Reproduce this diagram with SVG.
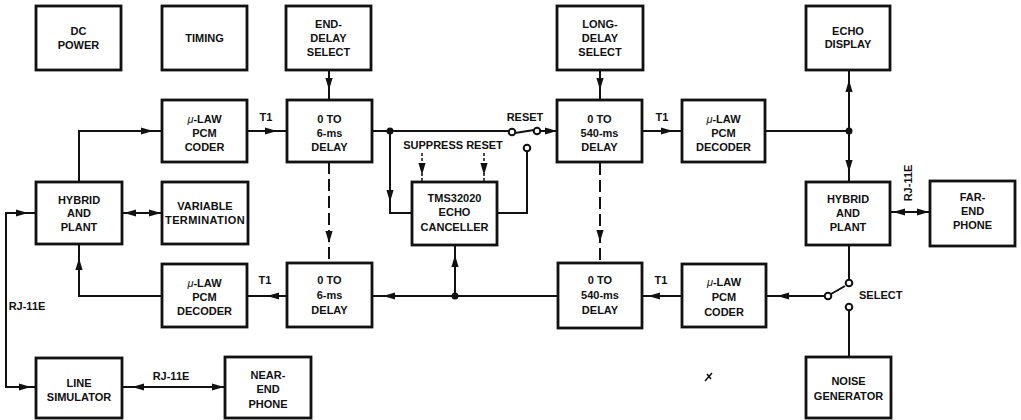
<svg xmlns="http://www.w3.org/2000/svg" xmlns:xlink="http://www.w3.org/1999/xlink" width="1021" height="420" viewBox="0 0 1021 420">
<style>
.box{fill:#fff;stroke:#111;stroke-width:2.8}
.t{font-family:"Liberation Sans",Arial,Helvetica,sans-serif;font-weight:bold;font-size:11px;fill:#111;text-anchor:middle}
.s{text-anchor:start}
.mu{font-style:italic;font-weight:normal}
.ln{fill:none;stroke:#111;stroke-width:2}
.dash{stroke-dasharray:12 5}
.dots{stroke-dasharray:3 2;stroke-width:1.5}
.dot{fill:#111}
.ct{fill:#fff;stroke:#111;stroke-width:2}
</style>
<defs>
<path id="ah" d="M0,0 L-12,-3.6 L-12,3.6 Z" fill="#111"/>
</defs>
<rect width="1021" height="420" fill="#fff"/>

<g id="dc-power"><rect class="box" x="36" y="6" width="85" height="64"/>
<text class="t" x="78.5" y="35">DC</text><text class="t" x="78.5" y="49">POWER</text></g>

<g id="timing"><rect class="box" x="162" y="6" width="85" height="64"/>
<text class="t" x="204.5" y="42">TIMING</text></g>

<g id="end-delay-select"><rect class="box" x="286" y="6" width="85" height="64"/>
<text class="t" x="328.5" y="28">END-</text><text class="t" x="328.5" y="42">DELAY</text><text class="t" x="328.5" y="56">SELECT</text></g>

<g id="long-delay-select"><rect class="box" x="557" y="6" width="86" height="64"/>
<text class="t" x="600" y="28">LONG-</text><text class="t" x="600" y="42">DELAY</text><text class="t" x="600" y="56">SELECT</text></g>

<g id="echo-display"><rect class="box" x="806" y="6" width="84" height="64"/>
<text class="t" x="848" y="35">ECHO</text><text class="t" x="848" y="48">DISPLAY</text></g>

<g id="coder-top"><rect class="box" x="162" y="100" width="85" height="62"/>
<text class="t" x="204.5" y="123"><tspan class="mu">μ</tspan>-LAW</text><text class="t" x="204.5" y="137">PCM</text><text class="t" x="204.5" y="151">CODER</text></g>

<g id="delay6-top"><rect class="box" x="287" y="100" width="85" height="62"/>
<text class="t" x="329.5" y="123">0 TO</text><text class="t" x="329.5" y="137">6-ms</text><text class="t" x="329.5" y="151">DELAY</text></g>

<g id="delay540-top"><rect class="box" x="557" y="100" width="85" height="62"/>
<text class="t" x="599.5" y="123">0 TO</text><text class="t" x="599.5" y="137">540-ms</text><text class="t" x="599.5" y="151">DELAY</text></g>

<g id="decoder-top"><rect class="box" x="682" y="100" width="83" height="62"/>
<text class="t" x="723.5" y="123"><tspan class="mu">μ</tspan>-LAW</text><text class="t" x="723.5" y="137">PCM</text><text class="t" x="723.5" y="151">DECODER</text></g>

<g id="hybrid-left"><rect class="box" x="36" y="182" width="86" height="62"/>
<text class="t" x="79" y="204">HYBRID</text><text class="t" x="79" y="217">AND</text><text class="t" x="79" y="231">PLANT</text></g>

<g id="variable-termination"><rect class="box" x="162" y="182" width="86" height="62"/>
<text class="t" x="205" y="210">VARIABLE</text><text class="t" x="205" y="224" style="letter-spacing:0.4px">TERMINATION</text></g>

<g id="echo-canceller"><rect class="box" x="412" y="182" width="85" height="63"/>
<text class="t" x="454.5" y="202">TMS32020</text><text class="t" x="454.5" y="216">ECHO</text><text class="t" x="454.5" y="231">CANCELLER</text></g>

<g id="hybrid-right"><rect class="box" x="806" y="182" width="84" height="63"/>
<text class="t" x="848" y="203">HYBRID</text><text class="t" x="848" y="217">AND</text><text class="t" x="848" y="231">PLANT</text></g>

<g id="far-end-phone"><rect class="box" x="930" y="181" width="85" height="65"/>
<text class="t" x="972.5" y="201">FAR-</text><text class="t" x="972.5" y="215">END</text><text class="t" x="972.5" y="229">PHONE</text></g>

<g id="decoder-bottom"><rect class="box" x="162" y="264" width="85" height="63"/>
<text class="t" x="204.5" y="287"><tspan class="mu">μ</tspan>-LAW</text><text class="t" x="204.5" y="301">PCM</text><text class="t" x="204.5" y="315">DECODER</text></g>

<g id="delay6-bottom"><rect class="box" x="287" y="263" width="85" height="64"/>
<text class="t" x="329.5" y="284">0 TO</text><text class="t" x="329.5" y="299">6-ms</text><text class="t" x="329.5" y="314">DELAY</text></g>

<g id="delay540-bottom"><rect class="box" x="558" y="263" width="84" height="65"/>
<text class="t" x="600" y="284">0 TO</text><text class="t" x="600" y="299">540-ms</text><text class="t" x="600" y="314">DELAY</text></g>

<g id="coder-bottom"><rect class="box" x="682" y="264" width="84" height="63"/>
<text class="t" x="724" y="286"><tspan class="mu">μ</tspan>-LAW</text><text class="t" x="724" y="301">PCM</text><text class="t" x="724" y="316">CODER</text></g>

<g id="line-simulator"><rect class="box" x="36" y="358" width="86" height="60"/>
<text class="t" x="79" y="387">LINE</text><text class="t" x="79" y="401">SIMULATOR</text></g>

<g id="near-end-phone"><rect class="box" x="225" y="357" width="86" height="61"/>
<text class="t" x="268" y="379">NEAR-</text><text class="t" x="268" y="393">END</text><text class="t" x="268" y="408">PHONE</text></g>

<g id="noise-generator"><rect class="box" x="806" y="357" width="85" height="61"/>
<text class="t" x="848.5" y="385">NOISE</text><text class="t" x="848.5" y="400">GENERATOR</text></g>

<g id="connectors">
<path class="ln" d="M329,70 V100"/><use xlink:href="#ah" transform="translate(329,90) rotate(90)"/>
<path class="ln" d="M600,70 V100"/><use xlink:href="#ah" transform="translate(600,90) rotate(90)"/>
<path class="ln" d="M247,131 H287"/><use xlink:href="#ah" transform="translate(277,131)"/>
<text class="t" x="266" y="121">T1</text>
<path class="ln" d="M372,131 H508.5"/><circle class="dot" cx="390" cy="131" r="3.5"/>
<circle class="ct" cx="512" cy="132" r="3.3"/>
<path class="ln" d="M515,133 L534,130"/>
<circle class="ct" cx="537" cy="131" r="3.3"/>
<path class="ln" d="M540.3,131 H557"/><use xlink:href="#ah" transform="translate(557,131)"/>
<text class="t" x="525" y="121">RESET</text>
<path class="ln" d="M390,131 V213 H412"/><use xlink:href="#ah" transform="translate(390,202) rotate(90)"/>
<text class="t" x="453" y="149">SUPPRESS RESET</text>
<path class="ln dots" d="M422,153 V182"/><use xlink:href="#ah" transform="translate(422,175) rotate(90)"/>
<path class="ln dots" d="M484,153 V182"/><use xlink:href="#ah" transform="translate(484,175) rotate(90)"/>
<circle class="ct" cx="527" cy="148" r="3.3"/>
<path class="ln" d="M527,151.3 V213 H497"/>
<path class="ln" d="M558,296 H372"/><use xlink:href="#ah" transform="translate(383,296) rotate(180)"/>
<circle class="dot" cx="455" cy="296" r="3.5"/>
<path class="ln" d="M455,296 V245"/><use xlink:href="#ah" transform="translate(455,255) rotate(-90)"/>
<path class="ln" d="M682,296 H642"/><use xlink:href="#ah" transform="translate(648,296) rotate(180)"/>
<text class="t" x="661" y="284">T1</text>
<path class="ln" d="M766,296 H824.7"/><use xlink:href="#ah" transform="translate(777,296) rotate(180)"/>
<circle class="ct" cx="828" cy="296" r="3.3"/>
<path class="ln" d="M831,294 L845,286"/>
<circle class="ct" cx="849" cy="283" r="3.3"/>
<path class="ln" d="M849,245 V279.7"/>
<circle class="ct" cx="849" cy="307" r="3.3"/>
<path class="ln" d="M849,310.3 V357"/>
<text class="t s" x="859" y="299">SELECT</text>
<path class="ln" d="M642,131 H682"/><use xlink:href="#ah" transform="translate(673,131)"/>
<text class="t" x="662" y="121">T1</text>
<path class="ln" d="M765,131 H849"/><circle class="dot" cx="849" cy="131" r="3.5"/>
<path class="ln" d="M849,70 V182"/>
<use xlink:href="#ah" transform="translate(849,80) rotate(-90)"/>
<use xlink:href="#ah" transform="translate(849,172) rotate(90)"/>
<path class="ln" d="M890,212 H930"/>
<use xlink:href="#ah" transform="translate(893,212) rotate(180)"/>
<use xlink:href="#ah" transform="translate(929,212)"/>
<text class="t" transform="translate(912,183) rotate(-90)" x="0" y="0">RJ-11E</text>
<path class="ln" d="M122,213 H162"/>
<use xlink:href="#ah" transform="translate(124,213) rotate(180)"/>
<use xlink:href="#ah" transform="translate(161,213)"/>
<path class="ln" d="M79,182 V131 H162"/><use xlink:href="#ah" transform="translate(153,131)"/>
<path class="ln" d="M162,296 H79 V244"/><use xlink:href="#ah" transform="translate(79,258) rotate(-90)"/>
<path class="ln" d="M287,296 H247"/><use xlink:href="#ah" transform="translate(267,296) rotate(180)"/>
<text class="t" x="265" y="284">T1</text>
<path class="ln" d="M36,213 H6 V387 H36"/>
<use xlink:href="#ah" transform="translate(28,213)"/>
<use xlink:href="#ah" transform="translate(31,387)"/>
<text class="t" x="27" y="310">RJ-11E</text>
<path class="ln" d="M122,387 H225"/>
<use xlink:href="#ah" transform="translate(132,387) rotate(180)"/>
<use xlink:href="#ah" transform="translate(224,387)"/>
<text class="t" x="171" y="380">RJ-11E</text>
<path class="ln dash" d="M329,162 V263"/><use xlink:href="#ah" transform="translate(329,243) rotate(90)"/>
<path class="ln dash" d="M600,163 V263"/><use xlink:href="#ah" transform="translate(600,242) rotate(90)"/>
</g>
<path d="M705,381 L712,373 M707,374 L711,379" fill="none" stroke="#111" stroke-width="1.5"/>
</svg>
